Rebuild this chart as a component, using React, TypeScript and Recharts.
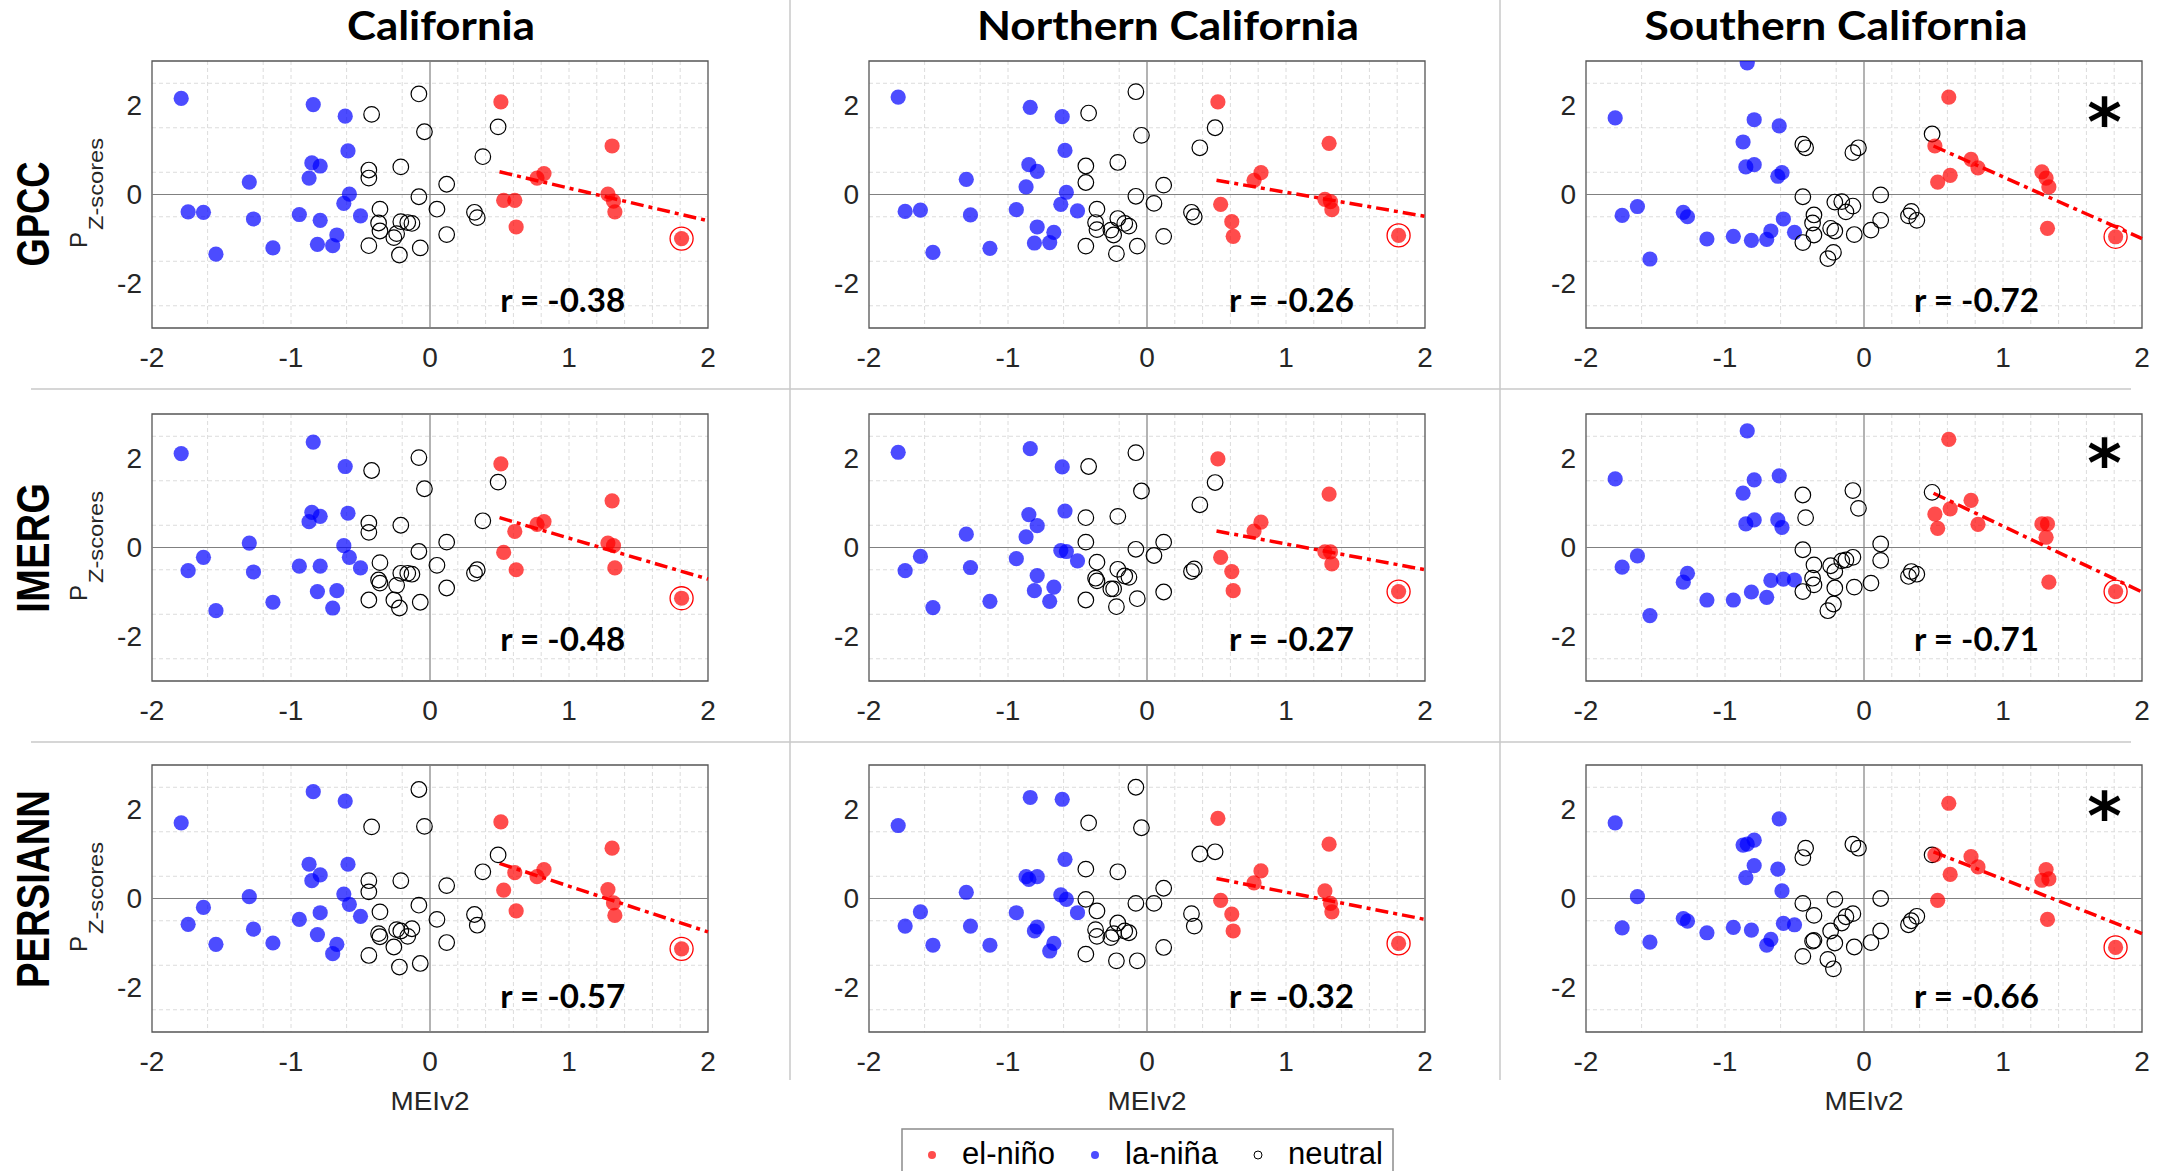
import React from "react";
import {
  ScatterChart,
  Scatter,
  XAxis,
  YAxis,
  CartesianGrid,
  ReferenceLine,
  ReferenceArea,
  ReferenceDot,
} from "recharts";

// MEIv2 of each year, grouped by ENSO phase (same years in every panel)
const laNinaMei = [-1.79, -1.74, -1.63, -1.54, -1.3, -1.27, -1.13, -0.94, -0.87, -0.85, -0.84, -0.81, -0.79, -0.79, -0.7, -0.67, -0.62, -0.61, -0.59, -0.58, -0.5];
const neutralMei = [-0.44, -0.44, -0.44, -0.42, -0.37, -0.36, -0.36, -0.26, -0.24, -0.22, -0.21, -0.21, -0.16, -0.13, -0.08, -0.08, -0.07, -0.04, 0.05, 0.12, 0.12, 0.32, 0.34, 0.38, 0.49];
const elNinoMei = [0.51, 0.53, 0.61, 0.62, 0.77, 0.82, 1.28, 1.31, 1.32, 1.33, 1.81];
const ringedMei = 1.81;

const regions = ["California", "Northern California", "Southern California"];
const products = ["GPCC", "IMERG", "PERSIANN"];

// precipitation z-scores, GPCC
const gpccCaLaNina = [2.16, -0.39, -0.4, -1.34, 0.28, -0.55, -1.2, -0.45, 0.37, 0.71, 2.02, -1.12, 0.64, -0.58, -1.15, -0.91, -0.2, 1.76, 0.98, 0.01, -0.48];
const gpccCaNeutral = [-1.15, 0.55, 0.37, 1.8, -0.64, -0.33, -0.82, -0.97, -0.88, -1.36, 0.62, -0.61, -0.63, -0.65, 2.26, -0.05, -1.2, 1.41, -0.33, 0.23, -0.9, -0.4, -0.52, 0.85, 1.52];
const gpccCaElNino = [2.08, -0.13, -0.13, -0.73, 0.37, 0.47, 0.01, 1.09, -0.15, -0.39, -0.99];
const gpccNorLaNina = [2.19, -0.38, -0.35, -1.3, 0.34, -0.46, -1.21, -0.34, 0.17, 0.67, 1.96, -1.09, 0.52, -0.73, -1.08, -0.85, -0.22, 1.75, 0.99, 0.05, -0.37];
const gpccNorNeutral = [-1.16, 0.64, 0.27, 1.83, -0.63, -0.33, -0.79, -0.8, -0.91, -1.33, 0.72, -0.54, -0.65, -0.71, 2.31, -0.04, -1.16, 1.33, -0.2, 0.21, -0.94, -0.4, -0.5, 1.05, 1.5];
const gpccNorElNino = [2.08, -0.22, -0.61, -0.94, 0.32, 0.49, -0.11, 1.15, -0.16, -0.34, -0.92];
const gpccSoLaNina = [1.72, -0.47, -0.27, -1.45, -0.4, -0.5, -1.0, -0.94, 1.18, 0.62, 2.96, -1.03, 0.67, 1.68, -1.01, -0.82, 0.41, 1.54, 0.49, -0.55, -0.85];
const gpccSoNeutral = [-1.08, 1.13, -0.05, 1.05, -0.64, -0.46, -0.91, -1.44, -0.76, -1.3, -0.17, -0.82, -0.16, -0.39, 0.94, -0.26, -0.9, 1.05, -0.8, -0.01, -0.58, -0.48, -0.38, -0.58, 1.36];
const gpccSoElNino = [1.09, 0.28, 2.19, 0.43, 0.79, 0.6, 0.51, 0.37, -0.76, 0.17, -0.95];

// IMERG
const imergCaLaNina = [2.11, -0.52, -0.22, -1.42, 0.1, -0.55, -1.23, -0.42, 0.58, 0.79, 2.37, -0.99, 0.7, -0.42, -1.36, -0.97, 0.04, 1.82, 0.77, -0.22, -0.46];
const imergCaNeutral = [-1.18, 0.55, 0.34, 1.73, -0.73, -0.34, -0.8, -1.18, -0.85, -1.36, 0.5, -0.58, -0.58, -0.6, 2.02, -0.09, -1.23, 1.32, -0.4, 0.12, -0.91, -0.58, -0.5, 0.6, 1.47];
const imergCaElNino = [1.88, -0.11, 0.36, -0.5, 0.52, 0.58, 0.1, 1.05, 0.04, -0.46, -1.14];
const imergNorLaNina = [2.14, -0.52, -0.2, -1.35, 0.3, -0.45, -1.21, -0.25, 0.24, 0.74, 2.22, -0.97, 0.49, -0.63, -1.21, -0.89, -0.07, 1.81, 0.82, -0.09, -0.3];
const imergNorNeutral = [-1.18, 0.67, 0.12, 1.82, -0.69, -0.33, -0.75, -0.93, -0.93, -1.33, 0.7, -0.49, -0.64, -0.67, 2.13, -0.04, -1.15, 1.27, -0.18, 0.12, -1.0, -0.54, -0.48, 0.96, 1.46];
const imergNorElNino = [1.99, -0.22, -0.54, -0.97, 0.37, 0.57, -0.1, 1.2, -0.1, -0.37, -0.99];
const imergSoLaNina = [1.54, -0.44, -0.19, -1.53, -0.78, -0.58, -1.18, -1.18, 1.22, 0.53, 2.62, -1.0, 0.62, 1.52, -1.12, -0.74, 0.62, 1.61, 0.45, -0.71, -0.73];
const imergSoNeutral = [-0.99, 1.18, -0.05, 0.67, -0.69, -0.39, -0.84, -1.42, -0.41, -1.27, -0.54, -0.91, -0.3, -0.28, 1.28, -0.22, -0.89, 0.88, -0.8, 0.08, -0.29, -0.65, -0.54, -0.6, 1.24];
const imergSoElNino = [0.75, 0.43, 2.43, 0.87, 1.06, 0.52, 0.53, 0.23, 0.53, -0.78, -0.99];

// PERSIANN
const persCaLaNina = [1.7, -0.58, -0.2, -1.03, 0.04, -0.69, -1.0, -0.47, 0.77, 0.4, 2.4, -0.81, 0.53, -0.32, -1.24, -1.03, 0.1, 2.19, 0.77, -0.13, -0.4];
const persCaNeutral = [-1.28, 0.4, 0.15, 1.61, -0.79, -0.3, -0.86, -1.09, -0.7, -1.54, 0.4, -0.73, -0.85, -0.68, 2.45, -0.15, -1.46, 1.62, -0.47, 0.29, -0.99, -0.36, -0.6, 0.6, 0.98];
const persCaElNino = [1.72, 0.19, 0.58, -0.28, 0.49, 0.65, 0.2, 1.13, -0.1, -0.38, -1.13];
const persNorLaNina = [1.64, -0.62, -0.3, -1.05, 0.14, -0.62, -1.05, -0.32, 0.49, 0.43, 2.27, -0.73, 0.49, -0.64, -1.18, -1.01, 0.08, 2.23, 0.88, -0.02, -0.32];
const persNorNeutral = [-1.25, 0.66, -0.02, 1.7, -0.7, -0.28, -0.85, -0.88, -0.79, -1.4, 0.6, -0.55, -0.73, -0.77, 2.5, -0.11, -1.4, 1.59, -0.11, 0.23, -1.1, -0.34, -0.62, 1.0, 1.05];
const persNorElNino = [1.8, -0.04, -0.35, -0.73, 0.35, 0.62, 0.17, 1.22, -0.11, -0.3, -1.01];
const persSoLaNina = [1.7, -0.66, 0.04, -0.98, -0.45, -0.51, -0.77, -0.65, 1.2, 0.47, 1.22, -0.71, 0.74, 1.31, -1.05, -0.92, 0.66, 1.79, 0.17, -0.56, -0.59];
const persSoNeutral = [-1.3, 0.92, -0.11, 1.13, -0.96, -0.38, -0.94, -1.37, -0.73, -1.58, -0.02, -1.0, -0.55, -0.41, 1.22, -0.34, -1.09, 1.13, -0.99, 0.0, -0.73, -0.59, -0.5, -0.4, 0.98];
const persSoElNino = [0.98, -0.04, 2.14, 0.54, 0.94, 0.71, 0.41, 0.65, -0.47, 0.44, -1.1];

// el-niño regression line: y at x = 0.5 and x = 2
const fitX = [0.5, 2];
const gpccFits = [[0.51, -0.59], [0.32, -0.49], [1.09, -0.99]];
const imergFits = [[0.67, -0.71], [0.37, -0.5], [1.22, -1.0]];
const persFits = [[0.79, -0.75], [0.45, -0.47], [1.05, -0.79]];

const gpccR = [-0.38, -0.26, -0.72];
const imergR = [-0.48, -0.27, -0.71];
const persR = [-0.57, -0.32, -0.66];
const significant = [false, false, true];

const xTicks = [-2, -1, 0, 1, 2];
const yTicks = [-2, 0, 2];
const xGrid = [-1.8, -1.6, -1.4, -1.2, -1, -0.8, -0.6, -0.4, -0.2, 0.2, 0.4, 0.6, 0.8, 1, 1.2, 1.4, 1.6, 1.8];
const yGrid = [-2.5, -2, -1.5, -1, -0.5, 0.5, 1, 1.5, 2, 2.5];

const panels = [
  [
    { laNina: gpccCaLaNina, neutral: gpccCaNeutral, elNino: gpccCaElNino },
    { laNina: gpccNorLaNina, neutral: gpccNorNeutral, elNino: gpccNorElNino },
    { laNina: gpccSoLaNina, neutral: gpccSoNeutral, elNino: gpccSoElNino },
  ],
  [
    { laNina: imergCaLaNina, neutral: imergCaNeutral, elNino: imergCaElNino },
    { laNina: imergNorLaNina, neutral: imergNorNeutral, elNino: imergNorElNino },
    { laNina: imergSoLaNina, neutral: imergSoNeutral, elNino: imergSoElNino },
  ],
  [
    { laNina: persCaLaNina, neutral: persCaNeutral, elNino: persCaElNino },
    { laNina: persNorLaNina, neutral: persNorNeutral, elNino: persNorElNino },
    { laNina: persSoLaNina, neutral: persSoNeutral, elNino: persSoElNino },
  ],
];
const fits = [gpccFits, imergFits, persFits];
const rValues = [gpccR, imergR, persR];

// layout (px)
const PLOT_LEFT = [152, 869, 1586];
const PLOT_TOP = [61, 414, 765];
const PLOT_W = 556;
const PLOT_H = 267;
const Y_AXIS_W = 60;
const rTextX = [0.955, 1.04, 0.81];
const rTextY = [-2.37, -2.05, -2.2];
const starY = [1.97, 2.24, 2.19];

const sans = "'Liberation Sans', Arial, Helvetica, sans-serif";
const titleFont = "Lato, 'Open Sans', sans-serif";
const tickStyle = { fill: "#262626", fontSize: 28, fontFamily: sans };

const toPoints = (xs: number[], ys: number[]) =>
  xs.map((x, i) => ({ x, y: ys[i] }));

const filledDot = (color: string) => (p: any) =>
  <circle cx={p.cx} cy={p.cy} r={7.6} fill={color} fillOpacity={0.7} />;
const openDot = (p: any) =>
  <circle cx={p.cx} cy={p.cy} r={7.8} fill="none" stroke="#000" strokeWidth={1.2} />;
const ring = (p: any) =>
  <circle cx={p.cx} cy={p.cy} r={11.5} fill="none" stroke="#ff0000" strokeWidth={1.3} />;

function Panel({ row, col }: { row: number; col: number }) {
  const d = panels[row][col];
  const laNina = toPoints(laNinaMei, d.laNina);
  const neutral = toPoints(neutralMei, d.neutral);
  const elNino = toPoints(elNinoMei, d.elNino);
  const ringed = elNino.filter((p) => p.x === ringedMei);
  const fit = fits[row][col];
  const r = rValues[row][col];

  return (
    <div
      style={{
        position: "absolute",
        left: PLOT_LEFT[col] - Y_AXIS_W,
        top: PLOT_TOP[row] - 10,
      }}
    >
      <ScatterChart
        width={Y_AXIS_W + PLOT_W + 10}
        height={PLOT_H + 60}
        margin={{ top: 10, right: 10, bottom: 0, left: 0 }}
      >
        <CartesianGrid
          horizontalValues={yGrid}
          verticalValues={xGrid}
          stroke="#dcdcdc"
          strokeDasharray="4 3"
        />
        <XAxis
          type="number"
          dataKey="x"
          domain={[-2, 2]}
          ticks={xTicks}
          allowDataOverflow
          axisLine={false}
          tickLine={false}
          tickSize={0}
          tickMargin={19}
          height={50}
          tick={tickStyle}
        />
        <YAxis
          type="number"
          dataKey="y"
          domain={[-3, 3]}
          ticks={yTicks}
          allowDataOverflow
          axisLine={false}
          tickLine={false}
          tickSize={0}
          tickMargin={10}
          width={Y_AXIS_W}
          tick={tickStyle}
        />
        <ReferenceLine x={0} stroke="#808080" strokeWidth={1.2} />
        <ReferenceLine y={0} stroke="#808080" strokeWidth={1.2} />
        <ReferenceArea
          x1={-2}
          x2={2}
          y1={-3}
          y2={3}
          fill="none"
          stroke="#555"
          strokeWidth={1.3}
          ifOverflow="visible"
        />
        <Scatter data={laNina} shape={filledDot("#0000ff")} isAnimationActive={false} />
        <Scatter data={neutral} shape={openDot} isAnimationActive={false} />
        <Scatter data={elNino} shape={filledDot("#ff0000")} isAnimationActive={false} />
        <Scatter data={ringed} shape={ring} isAnimationActive={false} />
        <ReferenceLine
          segment={[
            { x: fitX[0], y: fit[0] },
            { x: fitX[1], y: fit[1] },
          ]}
          stroke="#ff0000"
          strokeWidth={3.5}
          strokeDasharray="13 5 4 5"
          ifOverflow="visible"
        />
        <ReferenceDot
          x={rTextX[col]}
          y={rTextY[row]}
          r={0}
          ifOverflow="visible"
          shape={(p: any) => (
            <text
              x={p.cx}
              y={p.cy + 12}
              textAnchor="middle"
              fontFamily={titleFont}
              fontWeight={700}
              fontSize={33}
              textLength={125}
              lengthAdjust="spacingAndGlyphs"
              fill="#000"
            >
              {`r = ${r.toFixed(2)}`}
            </text>
          )}
        />
        {significant[col] && (
          <ReferenceDot
            x={1.73}
            y={starY[row]}
            r={0}
            ifOverflow="visible"
            shape={(p: any) => (
              <text
                x={p.cx}
                y={p.cy + 38}
                textAnchor="middle"
                fontFamily="'DejaVu Sans', sans-serif"
                fontWeight={700}
                fontSize={66}
                fill="#000"
              >
                *
              </text>
            )}
          />
        )}
      </ScatterChart>
    </div>
  );
}

const titleX = [441, 1168, 1836];
const titleW = [188, 382, 383];
const rowLabelY = [214, 548, 889];
const rowLabelW = [105, 130, 198];

export default function App() {
  const cells: React.ReactNode[] = [];
  for (let row = 0; row < 3; row++)
    for (let col = 0; col < 3; col++)
      cells.push(<Panel key={`${row}-${col}`} row={row} col={col} />);

  return (
    <div
      style={{
        position: "absolute",
        left: 0,
        top: 0,
        width: 2170,
        height: 1171,
        background: "#fff",
        overflow: "hidden",
      }}
    >
      <svg
        width={2170}
        height={1171}
        style={{ position: "absolute", left: 0, top: 0 }}
      >
        {/* panel separators */}
        <line x1={790} y1={0} x2={790} y2={1080} stroke="#c8c8c8" strokeWidth={1.5} />
        <line x1={1500} y1={0} x2={1500} y2={1080} stroke="#c8c8c8" strokeWidth={1.5} />
        <line x1={31} y1={389} x2={2131} y2={389} stroke="#c8c8c8" strokeWidth={1.5} />
        <line x1={31} y1={742} x2={2131} y2={742} stroke="#c8c8c8" strokeWidth={1.5} />

        {regions.map((name, i) => (
          <text
            key={name}
            x={titleX[i]}
            y={40}
            textAnchor="middle"
            fontFamily={titleFont}
            fontWeight={700}
            fontSize={40}
            textLength={titleW[i]}
            lengthAdjust="spacingAndGlyphs"
          >
            {name}
          </text>
        ))}

        {products.map((name, i) => (
          <g key={name}>
            <text
              transform={`translate(49,${rowLabelY[i]}) rotate(-90) scale(1,1.15)`}
              textAnchor="middle"
              fontFamily={sans}
              fontWeight={700}
              fontSize={40}
              textLength={rowLabelW[i]}
              lengthAdjust="spacingAndGlyphs"
            >
              {name}
            </text>
            <text
              transform={`translate(87,${PLOT_TOP[i] + 187}) rotate(-90)`}
              fontFamily={sans}
              fontSize={24}
              fill="#262626"
            >
              P
            </text>
            <text
              transform={`translate(103,${PLOT_TOP[i] + 169}) rotate(-90)`}
              fontFamily={sans}
              fontSize={20}
              fill="#262626"
              textLength={92}
              lengthAdjust="spacingAndGlyphs"
            >
              Z-scores
            </text>
          </g>
        ))}

        {PLOT_LEFT.map((left) => (
          <text
            key={left}
            x={left + PLOT_W / 2}
            y={1110}
            textAnchor="middle"
            fontFamily={sans}
            fontSize={25}
            fill="#262626"
            textLength={79}
            lengthAdjust="spacingAndGlyphs"
          >
            MEIv2
          </text>
        ))}

        {/* legend */}
        <rect x={902} y={1129} width={491} height={60} fill="#fff" stroke="#8c8c8c" strokeWidth={1.5} />
        <circle cx={932} cy={1155} r={4} fill="#ff0000" fillOpacity={0.7} />
        <text x={962} y={1164} fontFamily={sans} fontSize={31}>el-niño</text>
        <circle cx={1095} cy={1155} r={4} fill="#0000ff" fillOpacity={0.7} />
        <text x={1125} y={1164} fontFamily={sans} fontSize={31}>la-niña</text>
        <circle cx={1258} cy={1155} r={4} fill="none" stroke="#000" strokeWidth={1} />
        <text x={1288} y={1164} fontFamily={sans} fontSize={31}>neutral</text>
      </svg>
      {cells}
    </div>
  );
}
